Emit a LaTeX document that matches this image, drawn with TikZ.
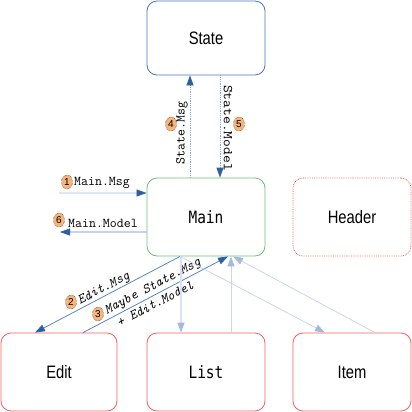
\documentclass[tikz,border=0pt]{standalone}
\usepackage{fontspec}
\setmainfont{Liberation Sans}
\newfontfamily\dmono{DejaVu Sans Mono}
\usetikzlibrary{arrows.meta,calc,shapes.geometric}
\definecolor{dblue}{HTML}{2F5F9F}
\definecolor{mblue}{HTML}{5A85C4}
\definecolor{lblue}{HTML}{A4BADC}
\definecolor{dotblue}{HTML}{8AAAD8}
\definecolor{llblue}{HTML}{C9D6EC}
\definecolor{bxblue}{HTML}{4A74C0}
\definecolor{bxgreen}{HTML}{6CC070}
\definecolor{bxred}{HTML}{F06060}
\definecolor{orng}{HTML}{F6B57A}
\tikzset{
  box/.style={draw, rounded corners=10bp, minimum width=118bp, minimum height=76bp, inner sep=0pt, line width=0.8bp},
  sanslbl/.style={font=\fontsize{18bp}{20bp}\selectfont},
  monolbl/.style={font=\dmono\fontsize{17bp}{20bp}\selectfont},
  elbl/.style={font=\ttfamily\fontsize{13.5bp}{15bp}\selectfont, inner sep=0pt},
  ielbl/.style={font=\ttfamily\itshape\fontsize{13.5bp}{15bp}\selectfont, inner sep=0pt},
  num/.style={ellipse, draw=black, densely dotted, fill=orng, minimum width=11bp, minimum height=14bp, inner sep=0pt, font=\fontsize{10bp}{11bp}\selectfont},
  darr/.style={draw=mblue, line width=0.8bp, -{Triangle[length=10bp,width=7bp,color=dblue]}},
  ldarr/.style={draw=lblue, line width=0.8bp, -{Triangle[length=10bp,width=7bp,color=dblue]}},
  dotarr/.style={draw=dotblue, densely dotted, line width=0.8bp, -{Triangle[length=10bp,width=7bp,color=dblue]}},
  larr/.style={draw=llblue, line width=0.8bp, -{Triangle[length=10bp,width=7bp,color=lblue]}},
}
\begin{document}
\begin{tikzpicture}[x=1bp,y=-1bp]
\useasboundingbox (0,0) rectangle (412,412);
\node[box, draw=bxblue, minimum height=74bp, sanslbl] (state) at (206,38) {\scalebox{0.82}[1]{State}};
\node[box, draw=bxgreen, minimum height=78bp, monolbl] (main) at (206,217) {\scalebox{0.85}[1]{Main}};
\node[box, draw=bxred, densely dotted, minimum height=78bp, sanslbl] (header) at (352,217) {\scalebox{0.82}[1]{Header}};
\node[box, draw=bxred, minimum width=116bp, minimum height=78bp, sanslbl] (edit) at (59,372) {\scalebox{0.82}[1]{Edit}};
\node[box, draw=bxred, minimum height=78bp, monolbl] (list) at (206,372) {\scalebox{0.85}[1]{List}};
\node[box, draw=bxred, minimum height=78bp, sanslbl] (item) at (352,372) {\scalebox{0.82}[1]{Item}};

\coordinate (msgin) at (59,193);
\coordinate (modelout) at (60,232);

% State arrows
\draw[dotarr] ([xshift=-16bp]main.north) -- ([xshift=-16bp]state.south);
\draw[dotarr] ([xshift=14bp]state.south) -- ([xshift=14bp]main.north);
\node[elbl, rotate=90] (lsm) at (182,133) {State.Msg};
\node[elbl, rotate=-90] (lsmod) at (228,128) {\scalebox{1.12}[1]{State.Model}};
\node[num] (n4) at (171,124) {4};
\node[num] (n5) at (239,124) {5};

% Main in/out
\draw[ldarr] (msgin) -- ([yshift=24bp]main.west);
\draw[darr] ([yshift=-15bp]main.west) -- (modelout);
\node[elbl, anchor=west] (lmm) at (74,183) {Main.Msg};
\node[elbl, anchor=west] (lmmod) at (68,223) {Main.Model};
\node[num] (n1) at (67,182) {1};
\node[num] (n6) at (59,220) {6};

% Edit arrows
\draw[darr] ([xshift=-26bp]main.south) -- ([xshift=-24bp]edit.north);
\draw[darr] ([xshift=24bp]edit.north) -- ([xshift=22bp]main.south);
\node[ielbl, rotate=27.7] (lem) at (104,289) {Edit.Msg};
\node[ielbl, rotate=27.7] (lmsm) at (153,287) {Maybe State.Msg};
\node[ielbl, rotate=27.7] (lpem) at (155,304) {+ Edit.Model};
\node[num] (n2) at (71,302) {2};
\node[num] (n3) at (98,314) {3};

% List / Item arrows
\draw[larr, draw=llblue!70, line width=1.5bp] ([xshift=-25bp]main.south) -- ([xshift=-25bp]list.north);
\draw[larr] ([xshift=25bp]list.north) -- ([xshift=25bp]main.south);
\draw[larr] ([xshift=-26bp]main.south) -- ([xshift=-27bp]item.north);
\draw[larr] ([xshift=23bp]item.north) -- ([xshift=27bp]main.south);
\end{tikzpicture}
\end{document}
